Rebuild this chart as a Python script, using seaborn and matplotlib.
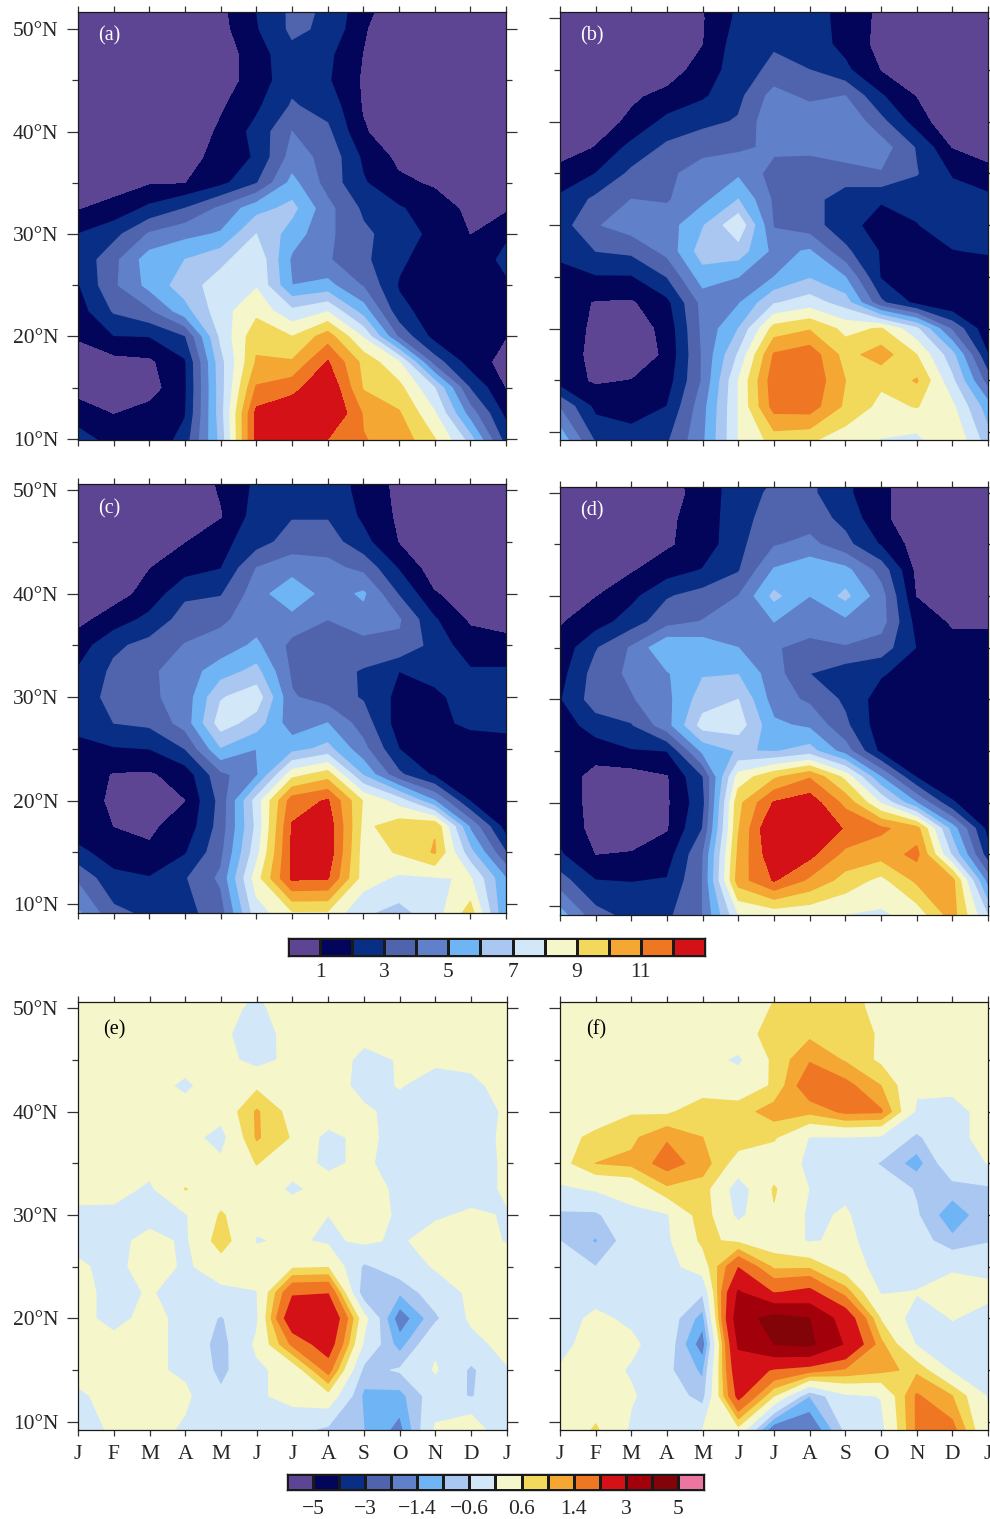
# Latitude-month contour panels (a)-(f) with two shared colour bars
import matplotlib
matplotlib.use("Agg")
import matplotlib.pyplot as plt
from matplotlib.colors import ListedColormap
import numpy as np
import seaborn as sns

sns.set_theme(style="ticks")
plt.rcParams["font.family"] = ["Liberation Serif", "DejaVu Serif"]

MONTHS = ["J", "F", "M", "A", "M", "J", "J", "A", "S", "O", "N", "D", "J"]
LATS = [52, 50, 47.5, 45, 42.5, 40, 37.5, 35, 32.5, 30, 27.5, 25, 22.5, 20, 17.5, 15, 12.5, 9]

COLORS = ["#5E4593", "#02055A", "#082E85", "#4F64AD", "#6080C9", "#6FB4F5", "#A9C7F0", "#D2E8F8",
          "#F6F6CB", "#F2D95C", "#F4A733", "#EF7724", "#D31116", "#A2000B", "#820408", "#EB769F"]

LEVELS_CLIM = [1, 2, 3, 4, 5, 6, 7, 8, 9, 10, 11, 12]
LEVELS_DIFF = [-5, -4, -3, -2, -1.4, -1, -0.6, 0, 0.6, 1, 1.4, 2, 3, 4, 5]
BAR_TICKS_CLIM = ["1", "3", "5", "7", "9", "11"]
BAR_TICKS_DIFF = ["\u22125", "\u22123", "\u22121.4", "\u22120.6", "0.6", "1.4", "3", "5"]

PANEL_A = [
    [.3, .3, .3, .3, .8, 2.0, 3.2, 2.9, 1.3, .5, .3, .3, .3],
    [.3, .3, .3, .3, .7, 1.9, 3.2, 2.8, 1.1, .4, .3, .3, .3],
    [.3, .3, .3, .3, .5, 1.5, 2.7, 2.2, 1.0, .4, .3, .3, .3],
    [.2, .2, .2, .2, .6, 1.4, 2.7, 2.1, .9, .3, .2, .2, .2],
    [.2, .2, .2, .3, .9, 1.8, 3.1, 2.6, .95, .4, .2, .2, .2],
    [.2, .2, .2, .3, 1.2, 2.3, 4.0, 3.2, 1.1, .5, .2, .2, .2],
    [.2, .2, .3, .6, 1.4, 2.1, 4.4, 3.7, 1.8, .8, .3, .2, .2],
    [.4, .6, .95, 1.0, 1.7, 2.9, 5.3, 3.6, 2.1, 1.2, .9, .4, .3],
    [.97, 1.35, 2.2, 3.0, 4.2, 5.6, 6.3, 4.3, 2.8, 2.1, 1.5, .8, .9],
    [2.0, 2.65, 4.1, 4.7, 5.1, 7.0, 5.5, 4.2, 3.2, 2.5, 1.7, 1.0, 1.8],
    [2.2, 3.7, 5.5, 6.0, 6.7, 7.8, 4.8, 4.1, 3.2, 2.2, 1.4, 1.2, 2.3],
    [1.9, 3.8, 5.3, 6.5, 7.5, 7.9, 5.0, 5.3, 3.9, 1.9, 1.1, 1.2, 1.8],
    [1.5, 3.1, 3.8, 5.6, 7.6, 8.7, 7.2, 7.9, 5.5, 2.3, 1.5, 1.1, 1.1],
    [1.1, 1.95, 2.0, 2.9, 7.2, 9.7, 9.0, 10.5, 7.9, 3.8, 1.6, 1.2, 1.05],
    [.6, .7, .85, 1.85, 6.6, 10.1, 10.1, 12.1, 9.7, 8.1, 3.5, 1.5, .7],
    [.6, .5, .6, 1.8, 6.5, 11.1, 11.6, 13, 9.9, 9.3, 7.0, 2.9, 1.0],
    [1.6, 1.0, 1.4, 1.9, 6.5, 12.3, 12.9, 13.3, 10.9, 10.1, 8.1, 4.5, 1.7],
    [2.6, 1.95, 1.3, 2.6, 6.2, 12.4, 11.7, 11.5, 11.1, 10.7, 9.4, 7.1, 3.0],
]
PANEL_B = [
    [.3, .3, .3, .4, 1.1, 2.1, 2.7, 2.5, 1.6, .8, .4, .3, .3],
    [.3, .3, .3, .4, .95, 2.2, 2.8, 2.5, 1.6, .8, .4, .3, .3],
    [.3, .3, .3, .4, 1.0, 2.5, 2.9, 2.5, 1.7, .7, .4, .3, .3],
    [.3, .3, .4, .7, 1.3, 2.6, 3.2, 3.0, 2.2, 1.0, .5, .3, .3],
    [.4, .6, .9, 1.2, 1.85, 2.7, 4.4, 3.7, 4.0, 2.1, 1.0, .4, .3],
    [.4, .7, 1.15, 2.3, 2.7, 3.1, 4.8, 4.9, 4.9, 3.3, 1.5, .3, .3],
    [.65, 1.05, 2.3, 3.2, 3.7, 3.8, 4.2, 4.2, 4.5, 4.5, 2.9, 1.0, .75],
    [1.3, 2.0, 3.2, 3.8, 4.4, 4.8, 3.6, 3.5, 3.6, 3.9, 3.05, 1.9, 1.2],
    [2.2, 3.2, 4.0, 3.9, 4.7, 6.0, 3.8, 3.4, 2.4, 2.1, 2.3, 2.4, 2.3],
    [2.5, 3.9, 4.5, 4.5, 5.9, 7.8, 3.9, 3.4, 2.4, 1.5, 1.95, 2.5, 2.5],
    [2.2, 3.0, 3.2, 4.3, 6.5, 6.5, 4.7, 5.1, 3.2, 1.9, 1.4, 1.95, 2.1],
    [1.7, 1.9, 1.9, 3.0, 5.5, 5.0, 5.0, 5.9, 5.0, 1.9, 1.2, 1.2, 1.3],
    [1.4, .95, .9, 1.7, 4.3, 4.9, 6.9, 7.5, 6.5, 3.2, 1.7, 1.0, 1.0],
    [1.6, .8, .5, 1.3, 4.2, 6.0, 9.4, 9.9, 8.7, 9.1, 7.2, 3.8, 1.2],
    [1.6, .7, .4, 1.2, 4.1, 7.1, 11.1, 11.6, 9.6, 10.5, 9.0, 6.3, 2.0],
    [1.4, .9, 1.05, 1.5, 4.1, 8.0, 11.6, 11.8, 10.0, 9.2, 10.1, 7.2, 3.5],
    [3.9, 1.7, 1.6, 2.0, 4.6, 8.0, 11.4, 11.5, 9.8, 8.7, 9.05, 8.2, 5.4],
    [5.8, 2.95, 2.4, 2.9, 4.8, 8.0, 9.3, 9.05, 8.3, 7.9, 7.6, 9.02, 6.5],
]
PANEL_C = [
    [.3, .3, .3, .4, 1.2, 2.1, 2.6, 2.7, 1.5, .8, .4, .3, .3],
    [.3, .3, .3, .4, 1.1, 2.2, 2.7, 2.7, 1.6, .8, .4, .3, .3],
    [.3, .3, .3, .4, .95, 2.4, 2.9, 2.9, 1.8, .85, .4, .3, .3],
    [.3, .3, .4, 1.0, 1.7, 2.5, 3.5, 3.5, 2.3, 1.0, .4, .3, .3],
    [.4, .6, 1.0, 1.5, 1.95, 4.0, 4.5, 4.3, 3.7, 1.9, .5, .3, .3],
    [.5, .7, 1.3, 2.8, 2.9, 4.5, 5.8, 4.5, 5.15, 2.9, 1.1, .5, .3],
    [.8, 1.4, 2.3, 3.4, 3.8, 4.5, 4.6, 4.0, 4.6, 4.1, 2.1, .9, .6],
    [1.45, 2.8, 3.3, 4.05, 4.4, 5.2, 3.7, 3.6, 3.6, 3.8, 2.6, 1.4, 1.4],
    [2.1, 3.2, 3.8, 4.5, 5.5, 6.3, 3.8, 3.4, 2.9, 2.0, 2.3, 2.1, 2.1],
    [2.3, 3.4, 3.8, 4.4, 6.9, 7.6, 4.1, 3.5, 2.9, 1.7, 1.8, 2.4, 2.4],
    [2.4, 3.0, 3.2, 4.4, 7.5, 6.5, 4.4, 5.0, 3.5, 1.5, 1.6, 2.3, 2.3],
    [1.6, 1.9, 2.0, 3.0, 5.9, 5.0, 5.6, 6.3, 4.3, 2.0, 1.1, 1.1, 1.5],
    [1.5, .95, .9, 1.4, 3.7, 4.8, 8.6, 9.5, 5.9, 3.2, 1.8, 1.1, 1.2],
    [1.6, .8, .6, 1.0, 3.3, 7.4, 11.5, 12.1, 8.9, 7.5, 5.0, 1.9, 1.1],
    [1.5, 1.0, .9, 1.3, 3.4, 7.2, 12.1, 12.7, 8.7, 9.6, 9.9, 4.8, 1.5],
    [2.2, 1.6, 1.1, 1.9, 3.7, 7.6, 12.2, 12.7, 8.5, 9.1, 10.1, 6.3, 3.0],
    [3.8, 2.2, 2.05, 2.9, 4.2, 8.5, 12.2, 12.1, 8.5, 7.8, 7.9, 8.1, 5.0],
    [5.2, 3.3, 2.8, 2.7, 3.45, 7.5, 8.7, 8.7, 7.1, 6.6, 7.5, 9.5, 5.0],
]
PANEL_D = [
    [.3, .3, .3, .7, 1.5, 2.4, 2.9, 3.2, 2.2, 1.3, .5, .3, .3],
    [.3, .3, .3, .6, 1.4, 2.5, 3.2, 3.2, 2.2, 1.2, .5, .3, .3],
    [.3, .3, .3, .8, 1.5, 2.5, 3.6, 3.5, 2.7, 1.2, .5, .3, .3],
    [.3, .3, .4, .9, 1.4, 2.7, 3.9, 4.3, 3.3, 1.9, .6, .3, .3],
    [.3, .5, .95, 1.5, 2.05, 2.9, 5.1, 5.7, 5.3, 3.6, .8, .3, .3],
    [.4, 1.0, 1.7, 2.9, 3.4, 4.0, 6.25, 5.0, 6.25, 4.4, 1.0, .5, .4],
    [.95, 1.5, 2.5, 3.6, 4.05, 4.4, 5.0, 4.3, 4.7, 4.4, 1.6, .9, .9],
    [1.3, 2.9, 4.1, 5.9, 5.6, 5.0, 4.05, 3.8, 3.9, 3.5, 1.95, 1.3, 1.3],
    [1.6, 3.4, 4.2, 4.9, 5.9, 5.95, 4.4, 3.0, 2.4, 2.1, 1.5, 1.3, 1.2],
    [1.9, 3.5, 3.9, 4.7, 6.5, 7.0, 4.5, 3.8, 2.8, 1.5, 1.2, 1.1, 1.1],
    [1.4, 2.5, 2.9, 4.6, 7.4, 7.5, 5.2, 4.8, 3.2, 1.4, 1.2, 1.1, 1.1],
    [1.2, 1.4, 1.9, 2.0, 5.2, 6.1, 5.9, 6.4, 4.5, 1.7, 1.3, 1.1, 1.05],
    [1.5, .7, .6, .95, 2.9, 8.4, 9.8, 10.9, 8.7, 5.0, 1.9, 1.1, 1.1],
    [1.7, .6, .4, .9, 2.6, 9.7, 12.1, 12.6, 10.7, 7.9, 5.0, 2.1, 1.05],
    [1.7, .7, .4, .95, 3.0, 9.9, 13.3, 13, 11.9, 11.2, 10.4, 5.5, 1.6],
    [2.1, 1.0, 1.1, 1.5, 3.9, 10.2, 12.8, 12.3, 10.7, 10.4, 11.3, 6.8, 2.4],
    [3.4, 2.0, 1.95, 2.05, 4.0, 10.5, 12.1, 10.8, 9.6, 8.7, 10.2, 10.3, 4.5],
    [5.5, 3.4, 2.7, 2.8, 4.0, 7.8, 8.1, 8.1, 7.9, 7.8, 8.3, 10.4, 7.0],
]
PANEL_E = [
    [.2, .2, .2, .2, .15, .02, .25, .25, .25, .25, .25, .25, .25],
    [.2, .2, .2, .2, .15, -.1, .25, .25, .25, .25, .25, .25, .25],
    [.2, .2, .2, .2, .1, -.25, .2, .25, .1, .25, .25, .25, .25],
    [.2, .2, .2, .2, .2, -.2, .15, .2, -.1, .02, .1, .2, .25],
    [.2, .2, .2, -.1, .3, .5, .2, .3, -.2, .03, -.25, -.2, .3],
    [.2, .2, .2, .2, .2, 1.05, .4, .4, .1, -.2, -.3, -.35, .1],
    [.2, .2, .2, .2, -.2, 1.05, .55, -.2, .2, -.3, -.4, -.35, .15],
    [.2, .2, .2, .2, .1, .62, .2, -.1, .1, -.25, -.35, -.3, .1],
    [.3, .2, -.1, .62, .3, .3, -.1, .2, .2, -.1, -.35, -.3, .1],
    [-.2, -.15, -.25, -.05, .65, .2, .3, 0, .3, -.1, -.1, .1, -.05],
    [-.2, -.2, .2, -.1, .85, -.05, .1, -.1, .1, -.1, .3, .3, -.05],
    [.1, -.2, .3, -.1, .3, .3, .5, .55, -.7, -.3, .05, .3, .3],
    [.2, -.2, .05, -.25, -.15, -.03, 1.9, 1.95, -1, -.95, -.3, .1, .3],
    [.2, -.2, .2, -.2, -.65, -.1, 2.6, 2.8, .2, -1.7, -.7, .1, .2],
    [.2, .2, .2, -.2, -.8, .1, 1.5, 2.4, -.1, -1.2, -.1, -.2, .2],
    [.2, .2, .1, -.1, -.75, -.1, .2, 1.6, -.75, -.55, .05, -.7, -.05],
    [-.1, .2, .2, .1, -.5, -.1, .2, .4, -1.1, -1.15, -.3, -.65, -.1],
    [-.7, .2, .2, -.1, -.3, -.3, -.5, -.8, -1, -1.6, .1, .6, -.7],
]
PANEL_F = [
    [.2, .2, .2, .2, .2, .3, .55, .8, .8, .35, .2, .2, .2],
    [.2, .2, .2, .2, .2, .35, .63, .85, .9, .35, .2, .2, .2],
    [.2, .2, .2, .2, .2, .35, .8, .9, 1.0, .5, .2, .2, .2],
    [.2, .2, .1, .2, .2, -.1, .7, 1.35, .95, .5, .25, .2, .2],
    [.2, .2, .1, .2, .3, .3, .65, 1.8, 1.55, 1.0, .1, .1, .2],
    [.2, .2, .55, .5, .9, .8, 1.2, 1.1, 1.5, 1.45, -.1, -.15, .15],
    [.35, .75, .9, 1.35, 1.0, .85, .65, -.03, -.03, -.1, -.7, -.1, .1],
    [.4, 1.0, 1.1, 1.6, 1.2, .35, .3, -.1, -.2, -.65, -1.2, -.2, .01],
    [-.1, .05, .15, .9, .8, -.3, .65, -.02, -.1, -.25, -.65, -.8, -.7],
    [-.7, -.7, -.1, -.05, .85, -.15, .55, -.1, .05, -.3, -.55, -1.3, -.7],
    [-.6, -1.05, -.3, -.1, .7, .5, .3, -.05, .1, -.2, -.35, -.9, -.65],
    [-.2, -.6, -.2, -.2, .3, 1.95, .9, .9, .3, -.2, -.3, -.1, -.1],
    [-.25, -.2, -.2, -.25, -.55, 3.1, 1.95, 2.2, 1.2, -.05, .03, .3, .1],
    [-.2, .1, -.1, -.3, -1.2, 3.6, 4.3, 4.0, 2.5, .55, -.3, .02, -.15],
    [-.2, .3, .1, -.3, -1.7, 3.1, 4.0, 4.2, 2.9, 1.1, -.05, -.2, -.2],
    [.05, .2, -.05, -.5, -1.1, 2.6, 1.9, 1.6, 1.3, 1.1, .9, -.1, -.1],
    [.05, .25, .05, -.3, -.8, 2.2, .6, -1.0, -.1, .02, 1.45, 1.0, -.05],
    [.1, .7, -.1, -.2, .05, .3, -1.98, -1.95, -.55, -.2, 1.45, 1.6, .05],
]

W, H = 990, 1519
fig = plt.figure(figsize=(W / 100, H / 100), dpi=100, facecolor="white")


def px_axes(left, right, top, bottom):
    return fig.add_axes([left / W, 1 - bottom / H, (right - left) / W, (bottom - top) / H])


def draw_panel(values, box, ylim, label, label_xy, label_color, levels, left_labels, bottom_labels):
    ax = px_axes(*box)
    colors = COLORS[:len(levels) + 1]
    grid = np.array(values)[::-1]
    ax.contourf(np.arange(13), np.array(LATS)[::-1], grid, levels=levels, extend="both",
                colors=colors[1:-1], antialiased=True).set_edgecolor("face")
    # under/over colours need a second pass since colors= takes them positional
    ax.contourf(np.arange(13), np.array(LATS)[::-1], grid, levels=[-99, levels[0]], colors=[colors[0]])
    ax.contourf(np.arange(13), np.array(LATS)[::-1], grid, levels=[levels[-1], 99], colors=[colors[-1]])
    ax.set_xlim(0, 12)
    ax.set_ylim(*ylim)
    ax.set_xticks(np.arange(13))
    ax.set_yticks([10, 20, 30, 40, 50])
    ax.set_yticks([15, 25, 35, 45], minor=True)
    ax.tick_params(axis="x", which="major", top=True, bottom=True, length=4, width=0.9, color="#333333",
                   direction="out", labelsize=15.5, pad=7, labelbottom=bottom_labels)
    ax.tick_params(axis="y", which="major", left=True, right=True, length=8, width=0.9, color="#333333",
                   direction="out", labelsize=15.5, pad=6, labelleft=left_labels)
    ax.tick_params(axis="y", which="minor", left=True, right=True, length=4, width=0.9, color="#333333",
                   direction="out")
    if bottom_labels:
        ax.set_xticklabels(MONTHS)
    if left_labels:
        ax.set_yticklabels([f"{v}\u00b0N" for v in [10, 20, 30, 40, 50]])
    for spine in ax.spines.values():
        spine.set_visible(True)
        spine.set_linewidth(0.9)
        spine.set_color("#1a1a1a")
    fig.text(label_xy[0] / W, 1 - label_xy[1] / H, label, color=label_color, fontsize=14.5,
             ha="center", va="center")
    return ax


def draw_bar(n, box, tick_pos, tick_labels, pad):
    cax = px_axes(*box)
    strip = np.arange(n).reshape(1, -1)
    sns.heatmap(strip, ax=cax, cmap=ListedColormap(sns.color_palette(COLORS[:n])), cbar=False,
                linewidths=0.9, linecolor="#1a1a1a", xticklabels=False, yticklabels=False)
    cax.set_xticks(tick_pos)
    cax.set_xticklabels(tick_labels, fontsize=15.5)
    cax.tick_params(axis="x", length=0, pad=pad)
    for spine in cax.spines.values():
        spine.set_visible(True)
        spine.set_linewidth(1.0)
        spine.set_color("#1a1a1a")


draw_panel(PANEL_A, (78, 506, 12, 440), (9.9, 51.66), "(a)", (109, 36), "white", LEVELS_CLIM, True, False)
draw_panel(PANEL_B, (560, 988, 12, 440), (9.25, 50.6), "(b)", (592, 36), "white", LEVELS_CLIM, False, False)
draw_panel(PANEL_C, (78, 506, 484, 913), (9.13, 50.6), "(c)", (109, 509), "white", LEVELS_CLIM, True, False)
draw_panel(PANEL_D, (560, 988, 487, 915), (9.13, 50.55), "(d)", (592, 511), "white", LEVELS_CLIM, False, False)
draw_panel(PANEL_E, (78, 507, 1002, 1430), (9.2, 50.6), "(e)", (114, 1030), "black", LEVELS_DIFF, True, True)
draw_panel(PANEL_F, (560, 988, 1002, 1430), (9.2, 50.6), "(f)", (596, 1030), "black", LEVELS_DIFF, False, True)

draw_bar(13, (288, 705, 938, 956), [1, 3, 5, 7, 9, 11], BAR_TICKS_CLIM, 5)
draw_bar(16, (287, 704, 1474, 1490), [1, 3, 5, 7, 9, 11, 13, 15], BAR_TICKS_DIFF, 7)

fig.savefig("out.png", dpi=100)
